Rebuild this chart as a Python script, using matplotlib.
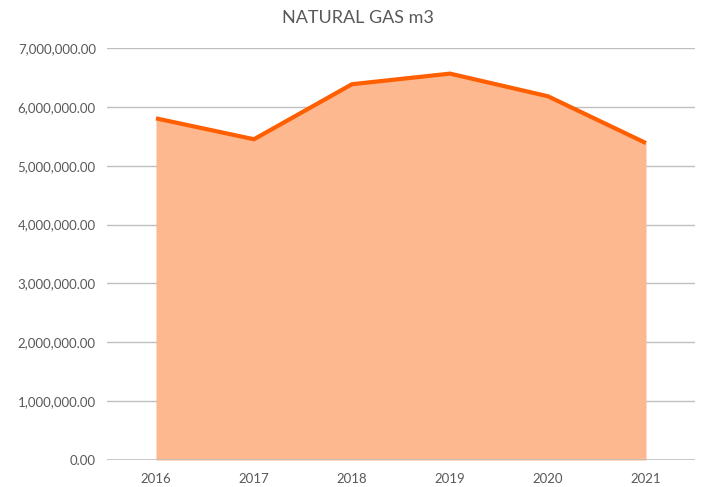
import matplotlib.pyplot as plt
from matplotlib.ticker import FuncFormatter

years = ['2016', '2017', '2018', '2019', '2020', '2021']
gas_m3 = [5805000, 5450000, 6385000, 6565000, 6180000, 5385000]
y_ticks = [0, 1000000, 2000000, 3000000, 4000000, 5000000, 6000000, 7000000]

plt.rcParams['font.family'] = ['Lato', 'DejaVu Sans']
text_col = '#595959'

fig = plt.figure(figsize=(7.02, 4.87), dpi=100)
ax = fig.add_axes([0.1524, 0.0554, 0.8376, 0.846])

x = range(len(years))
ax.fill_between(x, gas_m3, 0, color='#FDB88F', linewidth=0, zorder=2)
ax.plot(x, gas_m3, color='#FF5F00', linewidth=3, solid_capstyle='butt', zorder=3)
# zero line shows over the area
ax.axhline(0, color='#BFBFBF', linewidth=1.2, zorder=2.5)

ax.set_xlim(-0.5, len(years) - 0.5)
ax.set_ylim(0, 7000000)
ax.set_yticks(y_ticks)
ax.yaxis.set_major_formatter(FuncFormatter(lambda v, p: '{:,.2f}'.format(v)))
ax.set_xticks(list(x))
ax.set_xticklabels(years)

ax.grid(axis='y', color='#BFBFBF', linewidth=1, zorder=1)
ax.set_axisbelow(True)
for s in ax.spines.values():
    s.set_visible(False)
ax.tick_params(length=0, labelsize=9.5, labelcolor=text_col)
ax.tick_params(axis='y', pad=8)
ax.tick_params(axis='x', pad=9)

fig.text(0.51, 0.963, 'NATURAL GAS m3', fontsize=13, color=text_col,
         ha='center', va='center')

fig.savefig('out.png', dpi=100)
